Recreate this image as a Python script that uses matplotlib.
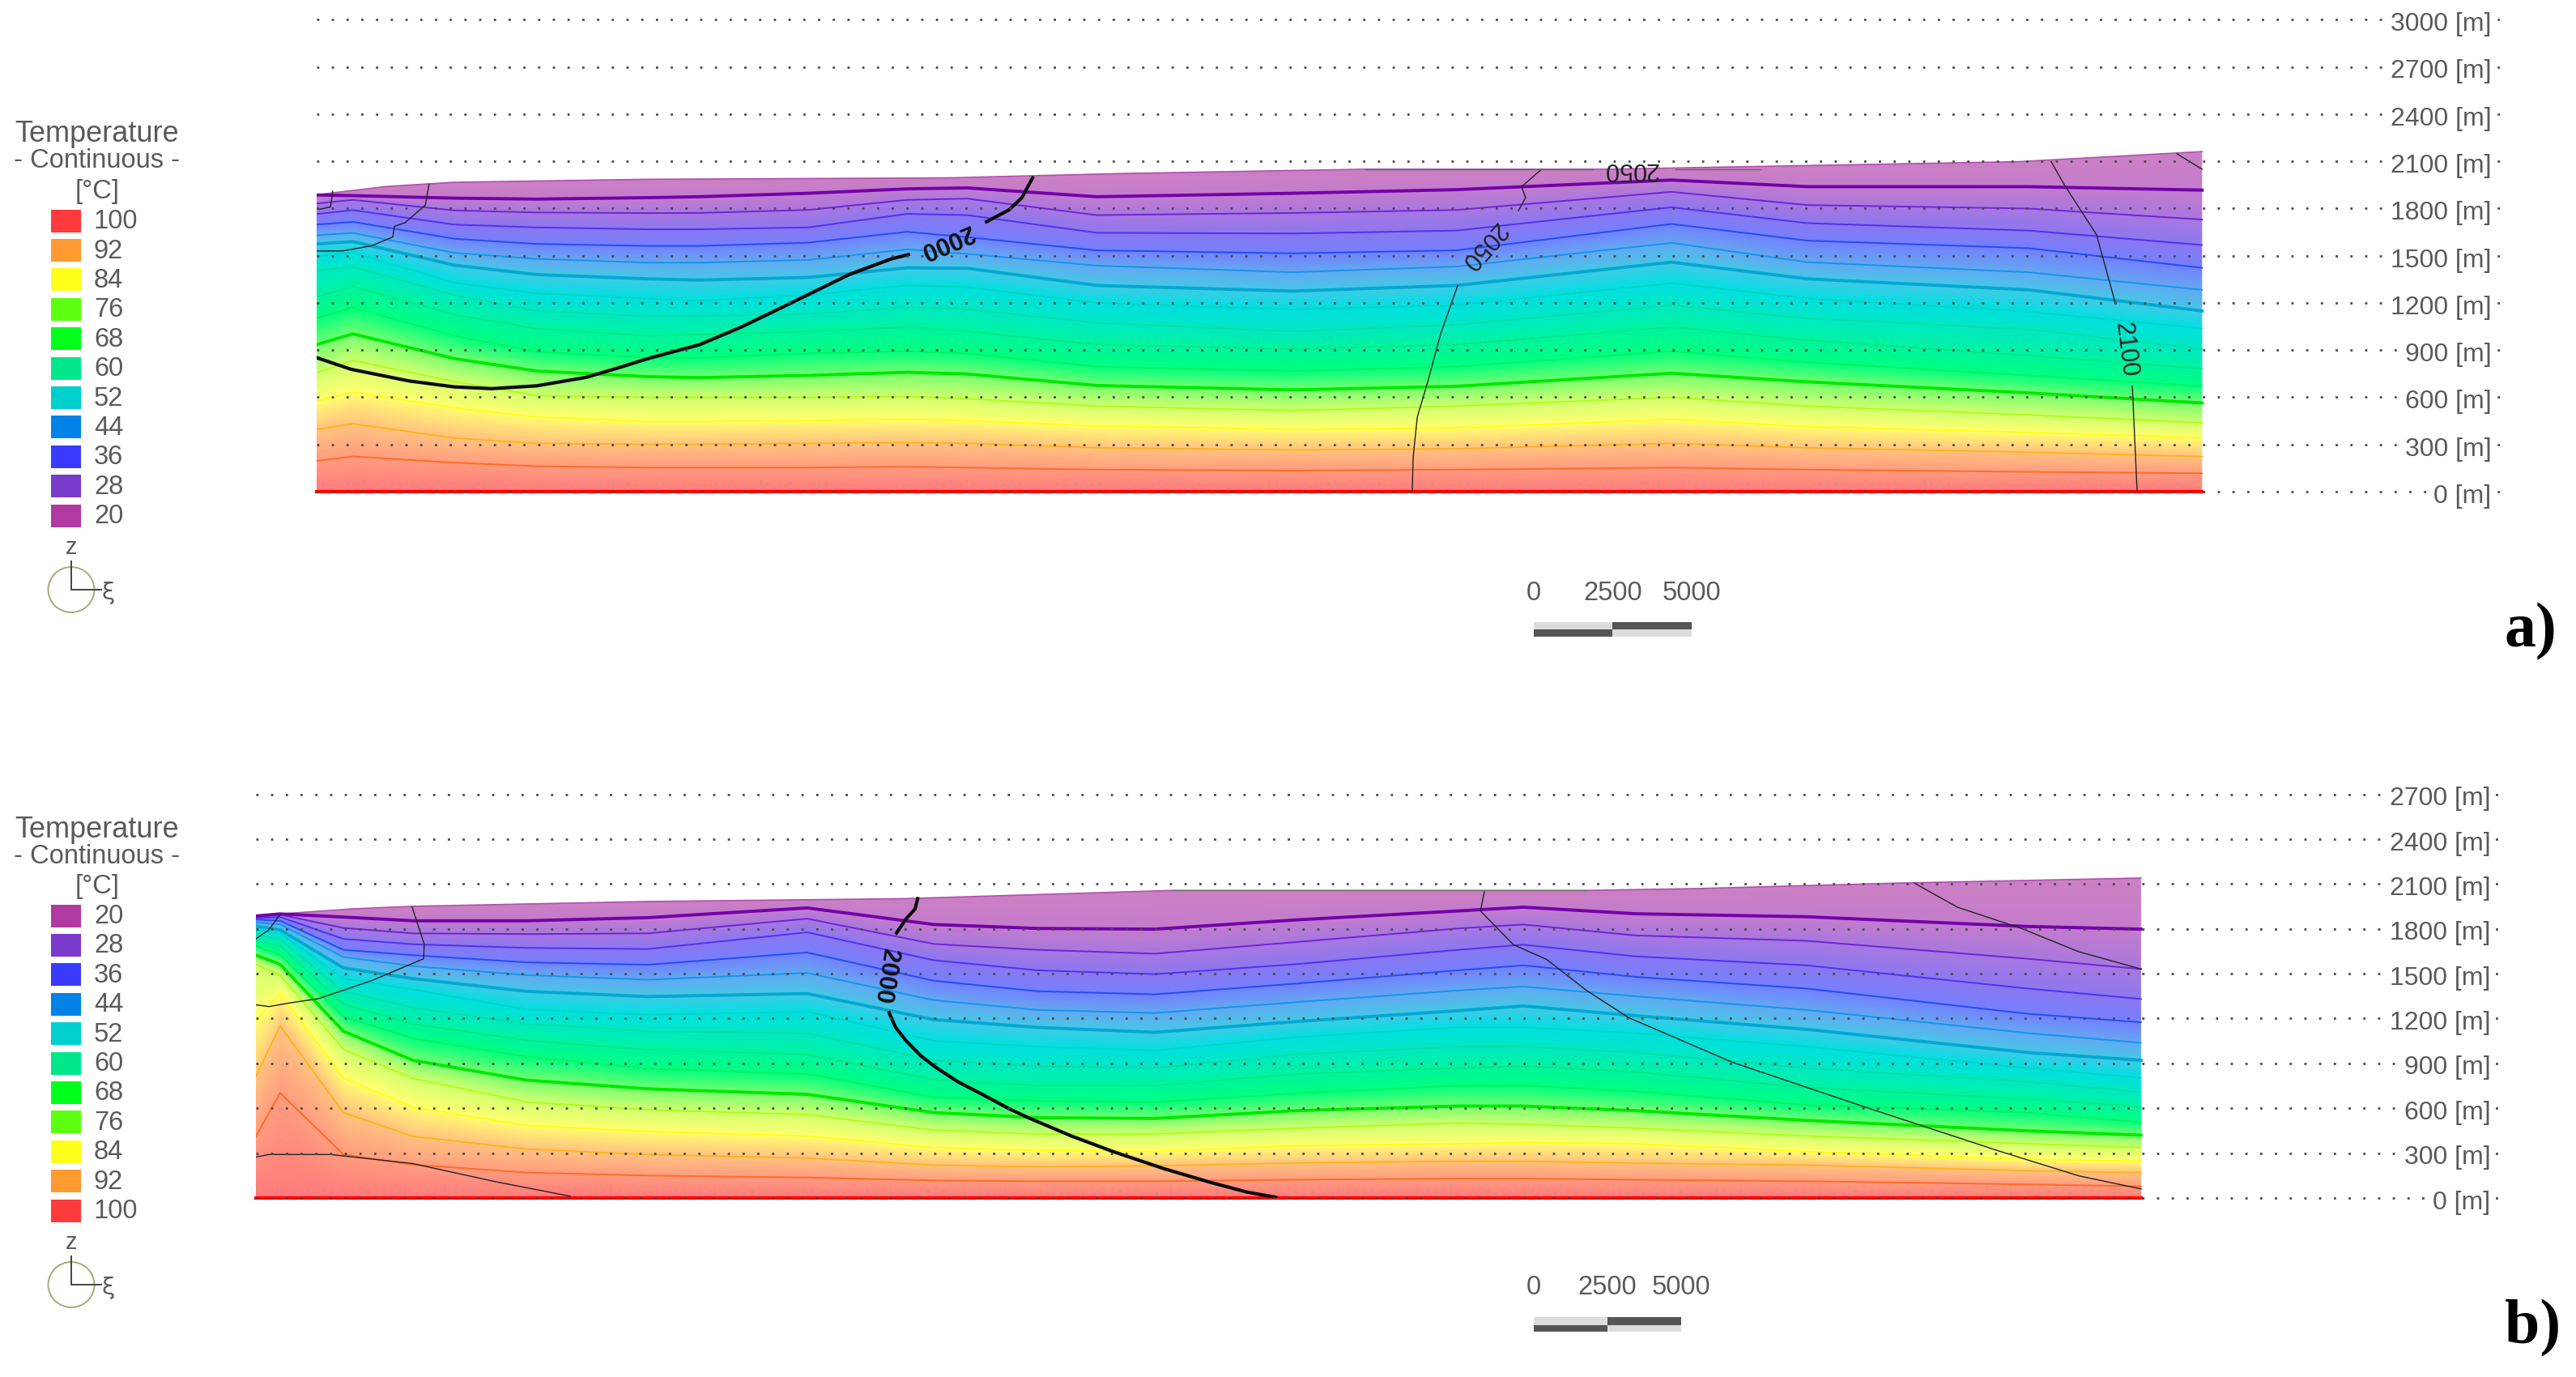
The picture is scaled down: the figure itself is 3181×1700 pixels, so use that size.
# encoding:utf-8
import matplotlib as mpl
mpl.use('Agg')
import matplotlib.pyplot as plt
import numpy as np
from matplotlib.colors import LinearSegmentedColormap
from matplotlib.patches import Rectangle, Ellipse, Polygon

plt.rcParams['font.family'] = ['Liberation Sans', 'DejaVu Sans']

W, H = 3181, 1700
TXT = '#5a5a5a'

# isotherm temperatures, the bold ones are every 25 degC
temps = [100, 95, 90, 85, 80, 75, 70, 65, 60, 55, 50, 45, 40, 35, 30, 25]
line_cols = ['#ff0000', '#ff6010', '#ffb000', '#ffff00', '#a0ff00', '#00e800', '#00f060', '#00e880',
             '#00e0a0', '#00d4c0', '#00a8d0', '#0090f0', '#1040f0', '#4020f0', '#6010d0', '#7000a8']
# fill colour at each temperature, last one is the 20 degC surface
fill_cols = ['#ff7c7c', '#ff9e80', '#ffc480', '#ffff70', '#d0ff70', '#70ff70', '#00ff80', '#00f4a0',
             '#00e8c4', '#00e0e0', '#44c8e8', '#64a8f0', '#7480ff', '#8c78f0', '#a878e0', '#c47ccc', '#cc80c4']

# legend
legend_vals = [100, 92, 84, 76, 68, 60, 52, 44, 36, 28, 20]
legend_cols = ['#ff3a3a', '#ff9a30', '#ffff1a', '#5dff10', '#00ff1a', '#00e68a', '#00cfd0', '#0082e6',
               '#3a3aff', '#7a3acc', '#b03aa0']

# ---- panel a, distance in km, height in m
a_ticks = [0, 300, 600, 900, 1200, 1500, 1800, 2100, 2400, 2700, 3000]
a_km = [0, 1.15, 4.36, 6.97, 10.49, 12.1, 15.56, 18.7, 20.6, 24.7, 30.9, 36.1, 42.9, 47.2, 54.2, 59.7]
a_t95 = [195, 224, 184, 162, 153, 153, 153, 159, 153, 140, 134, 140, 153, 140, 126, 117]
a_t90 = [397, 431, 341, 307, 301, 301, 307, 312, 307, 279, 265, 273, 307, 279, 251, 223]
a_t85 = [576, 632, 532, 475, 446, 446, 452, 460, 452, 418, 396, 405, 460, 413, 377, 343]
a_t80 = [756, 834, 700, 610, 600, 600, 600, 605, 591, 544, 516, 544, 600, 544, 488, 438]
a_t75 = [935, 1003, 846, 767, 731, 725, 739, 759, 748, 675, 647, 670, 753, 698, 628, 564]
a_t70 = [1103, 1171, 991, 890, 851, 851, 879, 893, 879, 795, 767, 795, 893, 823, 739, 670]
a_t65 = [1238, 1305, 1126, 1036, 991, 999, 1018, 1046, 1018, 935, 907, 935, 1046, 963, 865, 781]
a_t60 = [1406, 1429, 1249, 1148, 1116, 1116, 1130, 1172, 1160, 1074, 1018, 1060, 1186, 1102, 1032, 907]
a_t55 = [1496, 1520, 1328, 1260, 1228, 1214, 1250, 1311, 1300, 1200, 1158, 1186, 1325, 1228, 1144, 1038]
a_t50 = [1575, 1590, 1440, 1380, 1353, 1345, 1362, 1423, 1420, 1311, 1275, 1311, 1459, 1353, 1283, 1149]
a_t45 = [1630, 1645, 1518, 1480, 1456, 1456, 1473, 1540, 1512, 1437, 1395, 1431, 1582, 1459, 1395, 1283]
a_t40 = [1698, 1715, 1608, 1575, 1562, 1562, 1583, 1652, 1618, 1534, 1515, 1534, 1702, 1596, 1548, 1423]
a_t35 = [1765, 1790, 1698, 1680, 1668, 1668, 1680, 1766, 1758, 1646, 1641, 1660, 1808, 1707, 1660, 1568]
a_t30 = [1832, 1855, 1788, 1775, 1771, 1772, 1791, 1855, 1863, 1758, 1772, 1791, 1906, 1822, 1800, 1730]
a_t25 = [1886, 1882, 1866, 1860, 1869, 1875, 1897, 1925, 1931, 1875, 1897, 1920, 1981, 1939, 1939, 1917]
a_top_km = [0, 1.15, 2.2, 4.36, 10.49, 15.0, 20.0, 25.6, 33.2, 40.9, 53.9, 59.7]
a_top_z = [1888, 1915, 1940, 1967, 1986, 1990, 1995, 2023, 2050, 2050, 2098, 2162]

# isochrones of panel a
a_iso1_km = [0, 1.09, 2.92, 4.36, 5.54, 6.97, 8.54, 9.6, 10.49, 12.13, 13.44, 14.74, 15.87, 16.87, 18.18, 18.74]
a_iso1_z = [852, 778, 704, 666, 655, 673, 727, 790, 846, 935, 1046, 1172, 1283, 1381, 1479, 1507]
a_iso2_km = [21.21, 21.92, 22.33, 22.67]
a_iso2_z = [1716, 1791, 1869, 1995]
a_iso3_km = [0.51, 0.44, 0.05]
a_iso3_z = [1911, 1810, 1794]
a_iso4_km = [3.56, 3.44, 2.79, 2.46, 2.41, 1.74, 0.82, 0]
a_iso4_z = [1956, 1821, 1709, 1687, 1619, 1563, 1530, 1530]
a_iso5_km = [34.69, 34.72, 34.85, 35.18, 35.59, 36.13]
a_iso5_z = [6, 223, 474, 698, 1004, 1311]
a_iso6_km = [38.05, 38.28, 38.15, 38.79]
a_iso6_z = [1786, 1869, 1939, 2050]
a_iso7_km = [33.2, 40.41]
a_iso7_z = [2050, 2050]
a_iso8_km = [43.03, 45.72]
a_iso8_z = [2050, 2050]
a_iso9_km = [57.64, 57.49]
a_iso9_z = [6, 670]
a_iso10_km = [56.95, 56.36, 55.33, 54.92]
a_iso10_z = [1200, 1632, 1953, 2098]
a_iso11_km = [58.9, 59.7]
a_iso11_z = [2148, 2050]

# ---- panel b
b_ticks = [0, 300, 600, 900, 1200, 1500, 1800, 2100, 2400, 2700]
b_km = [0, 0.82, 2.97, 5.33, 9.18, 13.3, 18.7, 23.0, 26.5, 30.5, 35.3, 40.8, 43.0, 46.8, 52.6, 60.1, 63.95]
b_t95 = [412, 703, 291, 223, 170, 150, 137, 117, 112, 112, 122, 130, 130, 122, 112, 91, 78]
b_t90 = [812, 1151, 570, 412, 327, 290, 267, 220, 208, 215, 234, 246, 246, 233, 220, 182, 169]
b_t85 = [1188, 1370, 800, 606, 485, 445, 415, 337, 319, 311, 350, 363, 371, 363, 311, 259, 246]
b_t80 = [1563, 1491, 994, 800, 642, 590, 558, 454, 428, 428, 467, 501, 493, 467, 415, 363, 337]
b_t75 = [1624, 1563, 1115, 921, 788, 730, 693, 571, 537, 532, 584, 615, 615, 584, 519, 449, 420]
b_t70 = [1685, 1624, 1212, 1067, 945, 865, 830, 674, 648, 641, 700, 752, 752, 713, 622, 571, 506]
b_t65 = [1721, 1685, 1297, 1164, 1054, 990, 960, 791, 752, 752, 830, 869, 882, 843, 739, 661, 610]
b_t60 = [1757, 1733, 1382, 1273, 1164, 1115, 1102, 921, 882, 869, 960, 1012, 1012, 973, 869, 778, 708]
b_t55 = [1794, 1770, 1467, 1394, 1261, 1225, 1245, 1051, 1012, 986, 1076, 1141, 1141, 1102, 1012, 869, 804]
b_t50 = [1818, 1794, 1539, 1467, 1382, 1347, 1367, 1193, 1141, 1108, 1180, 1253, 1284, 1219, 1128, 973, 921]
b_t45 = [1842, 1830, 1612, 1551, 1491, 1460, 1505, 1323, 1258, 1237, 1310, 1388, 1414, 1349, 1258, 1103, 1038]
b_t40 = [1862, 1854, 1660, 1624, 1576, 1560, 1642, 1453, 1383, 1362, 1434, 1523, 1556, 1479, 1401, 1232, 1175]
b_t35 = [1871, 1879, 1733, 1697, 1673, 1665, 1777, 1590, 1523, 1497, 1564, 1660, 1694, 1616, 1556, 1401, 1331]
b_t30 = [1881, 1895, 1806, 1770, 1765, 1770, 1868, 1699, 1660, 1634, 1712, 1803, 1829, 1756, 1720, 1600, 1531]
b_t25 = [1886, 1900, 1879, 1854, 1854, 1875, 1940, 1829, 1803, 1798, 1860, 1920, 1945, 1901, 1881, 1816, 1798]
b_top_km = [0, 0.82, 3.3, 5.33, 13.3, 22.0, 31.07, 45.14, 49.0, 55.7, 63.95]
b_top_z = [1886, 1900, 1934, 1951, 1983, 2002, 2057, 2057, 2070, 2106, 2140]

b_iso1_km = [0.82, 0.44, 0]
b_iso1_z = [1896, 1794, 1733]
b_iso2_km = [5.30, 5.71, 5.69, 3.93, 2.12, 1.13, 0.44, 0]
b_iso2_z = [1946, 1697, 1600, 1454, 1333, 1304, 1280, 1292]
b_iso3_km = [0, 0.44, 2.53, 5.33, 8.13, 10.66]
b_iso3_z = [274, 291, 291, 230, 109, 12]
b_iso4_km = [22.45, 22.36, 22.06, 21.73]
b_iso4_z = [2002, 1933, 1868, 1772]
b_iso5_km = [21.48, 21.70, 22.06, 22.58, 23.10, 23.81, 24.70, 25.55, 26.26, 27.66, 29.07, 30.82, 32.39, 33.63, 34.59]
b_iso5_z = [1240, 1141, 1051, 947, 869, 778, 687, 597, 532, 415, 311, 195, 104, 39, 5]
b_iso6_km = [41.68, 41.54, 42.66, 43.79, 45.14, 46.57, 50.08, 54.56, 59.18, 61.84, 63.96]
b_iso6_z = [2055, 1920, 1694, 1595, 1388, 1206, 908, 610, 311, 148, 60]
b_iso7_km = [56.26, 57.72, 59.89, 61.84, 63.96]
b_iso7_z = [2106, 1945, 1803, 1647, 1531]
b_iso8_km = [31.07, 45.14]
b_iso8_z = [2057, 2057]

scale_labels = ['0', '2500', '5000']
scale_km = [0, 2.5, 5]

cmap = LinearSegmentedColormap.from_list(
    'temp', [((t - 20) / 80.0, c) for t, c in zip([20] + temps[::-1], fill_cols[::-1])])


def px_axes(fig, x0, x1, y_bottom, y_top):
    return fig.add_axes([x0 / W, 1 - y_bottom / H, (x1 - x0) / W, (y_bottom - y_top) / H])


def draw_section(ax, km, isos, top_km, top_z, ticks, x_end, x_label):
    # grid and labels
    for t in ticks:
        ax.plot([0, x_end], [t, t], color='#4a4a4a', lw=2.0, ls=(0, (1, 5.55)), zorder=5, clip_on=False)
        ax.text(x_label, t - 30, str(t) + ' [m]', ha='right', va='center', fontsize=23, color=TXT, zorder=6,
                bbox=dict(facecolor='white', edgecolor='none', pad=1))

    # field from the isotherms, column by column
    xs = np.linspace(0, km[-1], 700)
    zs = np.linspace(0, ticks[-1], 700)
    top = np.interp(xs, top_km, top_z)
    rows = [np.zeros(len(xs))] + [np.interp(xs, km, h) for h in isos] + [top + 1]
    rows = np.maximum.accumulate(np.array(rows), axis=0) + np.arange(len(rows))[:, None] * 0.01
    tt = np.array(temps + [20.0], dtype=float)
    field = np.array([np.interp(zs, rows[:, i], tt) for i in range(len(xs))]).T
    im = ax.imshow(field, origin='lower', extent=[0, km[-1], 0, ticks[-1]], aspect='auto', cmap=cmap,
                   vmin=20, vmax=100, interpolation='bilinear', zorder=1)
    poly = Polygon(list(zip(top_km, top_z)) + [(km[-1], 0), (0, 0)], closed=True, transform=ax.transData,
                   fc='none', ec='none')
    ax.add_patch(poly)
    im.set_clip_path(poly)

    # isotherm lines
    ax.plot(top_km, top_z, color='#b050b0', lw=1.2, zorder=2)
    ax.plot([0, km[-1]], [0, 0], color=line_cols[0], lw=3, zorder=3, clip_on=False)
    for t, c, h in zip(temps[1:], line_cols[1:], isos):
        if t % 25 == 0:
            ax.plot(km, h, color=c, lw=2.8, zorder=3, solid_joinstyle='round')
        else:
            ax.plot(km, h, color=c, lw=1.4, alpha=0.8, zorder=3, solid_joinstyle='round')
    ax.set_xlim(0, x_end)
    ax.set_ylim(ticks[0], ticks[-1])
    ax.axis('off')


def draw_legend(bg, y_title, vals, y_first, y_circle):
    bg.text(120, y_title, 'Temperature', ha='center', va='center', fontsize=26, color=TXT)
    bg.text(120, y_title + 33, '- Continuous -', ha='center', va='center', fontsize=23.5, color=TXT)
    bg.text(120, y_title + 71, '[°C]', ha='center', va='center', fontsize=23.5, color=TXT)
    for i, v in enumerate(vals):
        col = legend_cols[legend_vals.index(v)]
        y = y_first + i * 36.4
        bg.add_patch(Rectangle((63, y - 14), 37, 28, fc=col, ec='none'))
        bg.text(116, y + 1, str(v), ha='left', va='center', fontsize=23.5, color=TXT)
    bg.add_patch(Ellipse((88, y_circle), 57, 56, fc='none', ec='#a8a878', lw=1.4))
    bg.plot([88, 88, 125], [y_circle - 35, y_circle, y_circle], color='#444444', lw=1.4)
    bg.text(88, y_circle - 52, 'z', ha='center', va='center', fontsize=21, color=TXT)
    bg.text(134, y_circle + 4, 'ξ', ha='center', va='center', fontsize=21, color=TXT,
            family=['DejaVu Sans'])


def draw_scale(bg, x0, px_km, y_text, y_top, y_mid, y_bot):
    xp = [x0 + k * px_km for k in scale_km]
    for s, x in zip(scale_labels, xp):
        bg.text(x, y_text, s, ha='center', va='center', fontsize=23.5, color=TXT)
    bg.add_patch(Rectangle((xp[0], y_top), xp[1] - xp[0], y_mid - y_top, fc='#dcdcdc', ec='none'))
    bg.add_patch(Rectangle((xp[0], y_mid), xp[1] - xp[0], y_bot - y_mid, fc='#555555', ec='none'))
    bg.add_patch(Rectangle((xp[1], y_top), xp[2] - xp[1], y_mid - y_top, fc='#555555', ec='none'))
    bg.add_patch(Rectangle((xp[1], y_mid), xp[2] - xp[1], y_bot - y_mid, fc='#dcdcdc', ec='none'))


fig = plt.figure(figsize=(W / 100.0, H / 100.0), dpi=100)

bg = fig.add_axes([0, 0, 1, 1])
bg.set_xlim(0, W)
bg.set_ylim(H, 0)
bg.axis('off')

# panel a
ax1 = px_axes(fig, 391, 3091, 607, 24.4)
ax1.patch.set_alpha(0)
a_isos = [a_t95, a_t90, a_t85, a_t80, a_t75, a_t70, a_t65, a_t60, a_t55, a_t50, a_t45, a_t40, a_t35, a_t30, a_t25]
draw_section(ax1, a_km, a_isos, a_top_km, a_top_z, a_ticks, 69.23, 68.85)
ax1.plot(a_iso1_km, a_iso1_z, color='#0a0a0a', lw=3, zorder=4)
ax1.plot(a_iso2_km, a_iso2_z, color='#0a0a0a', lw=3, zorder=4)
for xx, yy in [(a_iso3_km, a_iso3_z), (a_iso4_km, a_iso4_z), (a_iso5_km, a_iso5_z), (a_iso6_km, a_iso6_z),
               (a_iso9_km, a_iso9_z), (a_iso10_km, a_iso10_z), (a_iso11_km, a_iso11_z)]:
    ax1.plot(xx, yy, color='#222222', lw=1.0, zorder=4)
for xx, yy in [(a_iso7_km, a_iso7_z), (a_iso8_km, a_iso8_z)]:
    ax1.plot(xx, yy, color='#666666', lw=1.0, zorder=4)
ax1.text(19.95, 1591, '2000', rotation=203, rotation_mode='anchor', ha='center', va='center',
         fontsize=22, fontweight='bold', color='#111111', zorder=7)
ax1.text(36.92, 1560, '2050', rotation=228, rotation_mode='anchor', ha='center', va='center',
         fontsize=22, color='#222222', zorder=7)
ax1.text(41.6, 2049, '2050', rotation=180, rotation_mode='anchor', ha='center', va='center',
         fontsize=22, color='#222222', zorder=7)
ax1.text(57.26, 901, '2100', rotation=-83, rotation_mode='anchor', ha='center', va='center',
         fontsize=22, color='#222222', zorder=7)

# panel b
ax2 = px_axes(fig, 316, 3088, 1479, 980.6)
ax2.patch.set_alpha(0)
b_isos = [b_t95, b_t90, b_t85, b_t80, b_t75, b_t70, b_t65, b_t60, b_t55, b_t50, b_t45, b_t40, b_t35, b_t30, b_t25]
draw_section(ax2, b_km, b_isos, b_top_km, b_top_z, b_ticks, 76.15, 75.8)
ax2.plot(b_iso4_km, b_iso4_z, color='#0a0a0a', lw=3, zorder=4)
ax2.plot(b_iso5_km, b_iso5_z, color='#0a0a0a', lw=3, zorder=4)
for xx, yy in [(b_iso1_km, b_iso1_z), (b_iso2_km, b_iso2_z), (b_iso3_km, b_iso3_z), (b_iso6_km, b_iso6_z),
               (b_iso7_km, b_iso7_z)]:
    ax2.plot(xx, yy, color='#222222', lw=1.0, zorder=4)
ax2.plot(b_iso8_km, b_iso8_z, color='#777777', lw=1.0, zorder=4)
ax2.text(21.35, 1488, '2000', rotation=-99, rotation_mode='anchor', ha='center', va='center',
         fontsize=22, fontweight='bold', color='#111111', zorder=7)

# legends, scale bars and panel letters
draw_legend(bg, 165, legend_vals, 272.6, 728)
draw_legend(bg, 1024, legend_vals[::-1], 1130.5, 1586)
draw_scale(bg, 1894, 39.0, 732, 768, 777, 786)
draw_scale(bg, 1894, 36.4, 1590, 1626, 1636, 1644)
bg.text(3125, 780, 'a)', ha='center', va='center', fontsize=56, fontweight='bold', family=['Liberation Serif'], color='black')
bg.text(3128, 1640, 'b)', ha='center', va='center', fontsize=56, fontweight='bold', family=['Liberation Serif'], color='black')

plt.savefig('out.png', dpi=100)
print('PNG saved!')
